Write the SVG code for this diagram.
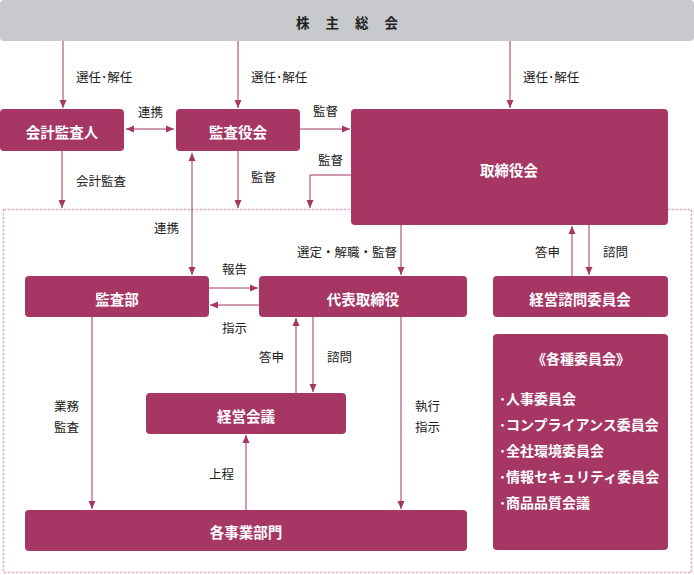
<svg xmlns="http://www.w3.org/2000/svg" width="694" height="575" viewBox="0 0 694 575">
<style>
.n{fill:#a63664}
.t{fill:#fff;font-family:"Noto Sans CJK JP",sans-serif;font-size:14.5px;font-weight:bold;text-anchor:middle}
.l{fill:#222;font-family:"Noto Sans CJK JP",sans-serif;font-size:12.5px}
.c line,.c polyline{stroke:#a63664;stroke-width:1;fill:none}
.li{fill:#fff;font-family:"Noto Sans CJK JP",sans-serif;font-size:14px;font-weight:bold}
</style>
<defs>
<marker id="a" viewBox="0 0 8 8" refX="8" refY="4" markerWidth="8" markerHeight="8" orient="auto" markerUnits="userSpaceOnUse"><path d="M0,0.5 L8,4 L0,7.5z" fill="#a63664"/></marker>
<marker id="s" viewBox="0 0 8 8" refX="0" refY="4" markerWidth="8" markerHeight="8" orient="auto" markerUnits="userSpaceOnUse"><path d="M8,0.5 L0,4 L8,7.5z" fill="#a63664"/></marker>
</defs>
<rect x="3.5" y="209.5" width="688" height="363" fill="none" stroke="#e2aac3" stroke-width="1.5" stroke-dasharray="2.5,1.5"/>
<g id="shareholders"><rect x="0" y="0" width="694" height="41" rx="4" fill="#c8c9cd"/><text x="355" y="28" font-family="Noto Sans CJK JP,sans-serif" font-size="13.5" font-weight="bold" fill="#222" text-anchor="middle" letter-spacing="16">株主総会</text></g>
<g id="auditor"><rect class="n" x="0" y="109" width="124" height="42" rx="4"/><text class="t" x="62" y="138">会計監査人</text></g>
<g id="kansayakukai"><rect class="n" x="176" y="109" width="124" height="42" rx="4"/><text class="t" x="238" y="138">監査役会</text></g>
<g id="board"><rect class="n" x="351" y="109" width="317" height="116" rx="4"/><text class="t" x="509" y="176">取締役会</text></g>
<g id="kansabu"><rect class="n" x="25" y="276" width="184" height="41" rx="4"/><text class="t" x="117" y="305">監査部</text></g>
<g id="ceo"><rect class="n" x="259" y="276" width="208" height="41" rx="4"/><text class="t" x="363" y="304.5">代表取締役</text></g>
<g id="advisory"><rect class="n" x="493" y="276" width="175" height="41" rx="4"/><text class="t" x="580" y="304.5">経営諮問委員会</text></g>
<g id="keieikaigi"><rect class="n" x="146" y="393" width="200" height="41" rx="4"/><text class="t" x="246" y="422">経営会議</text></g>
<g id="divisions"><rect class="n" x="25" y="510" width="442" height="41" rx="4"/><text class="t" x="246" y="538">各事業部門</text></g>
<g id="committees"><rect class="n" x="493" y="334" width="175" height="216" rx="4"/>
<text class="li" x="581" y="364" text-anchor="middle" font-size="12.5px">《各種委員会》</text>
<text class="li" x="499" y="404">･人事委員会</text>
<text class="li" x="499" y="430">･コンプライアンス委員会</text>
<text class="li" x="499" y="456">･全社環境委員会</text>
<text class="li" x="499" y="482">･情報セキュリティ委員会</text>
<text class="li" x="499" y="508">･商品品質会議</text>
</g>
<g id="connectors" class="c">
<line x1="63" y1="41" x2="63" y2="108" marker-end="url(#a)"/>
<line x1="238" y1="41" x2="238" y2="108" marker-end="url(#a)"/>
<line x1="510" y1="41" x2="510" y2="108" marker-end="url(#a)"/>
<line x1="126" y1="129" x2="174" y2="129" marker-start="url(#s)" marker-end="url(#a)"/>
<line x1="300" y1="129" x2="350" y2="129" marker-end="url(#a)"/>
<polyline points="351,175 310,175 310,208" marker-end="url(#a)"/>
<line x1="62" y1="151" x2="62" y2="208" marker-end="url(#a)"/>
<line x1="238" y1="151" x2="238" y2="208" marker-end="url(#a)"/>
<line x1="192" y1="153" x2="192" y2="275" marker-start="url(#s)" marker-end="url(#a)"/>
<line x1="209" y1="288" x2="258" y2="288" marker-end="url(#a)"/>
<line x1="259" y1="305" x2="210" y2="305" marker-end="url(#a)"/>
<line x1="401" y1="225" x2="401" y2="275" marker-end="url(#a)"/>
<line x1="572" y1="276" x2="572" y2="226" marker-end="url(#a)"/>
<line x1="589" y1="225" x2="589" y2="275" marker-end="url(#a)"/>
<line x1="296" y1="393" x2="296" y2="318" marker-end="url(#a)"/>
<line x1="313" y1="317" x2="313" y2="392" marker-end="url(#a)"/>
<line x1="92" y1="317" x2="92" y2="509" marker-end="url(#a)"/>
<line x1="401" y1="317" x2="401" y2="509" marker-end="url(#a)"/>
<line x1="246" y1="510" x2="246" y2="435" marker-end="url(#a)"/>
</g>
<g id="labels">
<text class="l" x="76" y="81.5">選任･解任</text>
<text class="l" x="251" y="81.5">選任･解任</text>
<text class="l" x="523" y="81.5">選任･解任</text>
<text class="l" x="138" y="116.5">連携</text>
<text class="l" x="313" y="115.5">監督</text>
<text class="l" x="318" y="164.5">監督</text>
<text class="l" x="76" y="185.5">会計監査</text>
<text class="l" x="251" y="181.5">監督</text>
<text class="l" x="154" y="232.5">連携</text>
<text class="l" x="297" y="256.5">選定・解職・監督</text>
<text class="l" x="222" y="273.5">報告</text>
<text class="l" x="222" y="332.5">指示</text>
<text class="l" x="535" y="256.5">答申</text>
<text class="l" x="603" y="256.5">諮問</text>
<text class="l" x="259" y="361.5">答申</text>
<text class="l" x="327" y="361.5">諮問</text>
<text class="l" x="54" y="410.5">業務</text>
<text class="l" x="54" y="431.5">監査</text>
<text class="l" x="415" y="410.5">執行</text>
<text class="l" x="415" y="431.5">指示</text>
<text class="l" x="209" y="478.5">上程</text>
</g>
</svg>
